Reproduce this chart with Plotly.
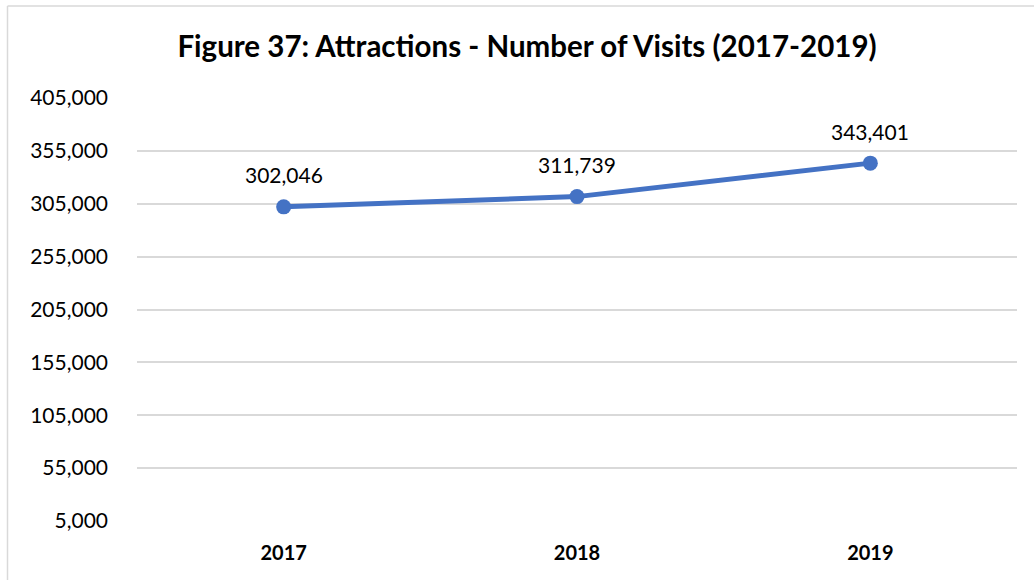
import plotly.graph_objects as go

# Attractions: number of visits per year
years = ["2017", "2018", "2019"]
visits = [302046, 311739, 343401]

# y-axis ticks
y_ticks = [5000, 55000, 105000, 155000, 205000, 255000, 305000, 355000, 405000]

FONT = "Lato"
BLUE = "#4472C4"
GRID = "#d9d9d9"

fig = go.Figure()
fig.add_trace(go.Scatter(
    x=years,
    y=visits,
    mode="lines+markers",
    line=dict(color=BLUE, width=5),
    marker=dict(color=BLUE, size=15),
    hoverinfo="x+y",
))

# value labels above each point (category index positions)
for i, v in enumerate(visits):
    fig.add_annotation(
        x=i, y=v, xref="x", yref="y", text=f"{v:,}", showarrow=False,
        yshift=32, font=dict(family=FONT, size=21, color="#000000"),
    )

fig.update_layout(
    width=1034,
    height=580,
    margin=dict(l=137, r=17, t=98, b=58.5),
    paper_bgcolor="white",
    plot_bgcolor="white",
    showlegend=False,
    title=dict(
        text="<b>Figure 37: Attractions - Number of Visits (2017-2019)</b>",
        x=527 / 1034, xanchor="center",
        y=1 - 47 / 580, yanchor="middle",
        font=dict(family=FONT, size=29.5, color="#000000"),
    ),
    xaxis=dict(
        type="category",
        range=[-0.5, 2.5],
        showgrid=False,
        showline=False,
        ticks="",
        tickfont=dict(family=FONT, size=20, color="#000000", weight="bold"),
        ticklabelstandoff=18,
    ),
    yaxis=dict(
        range=[5000, 405000],
        tickvals=y_ticks,
        ticktext=[f"{t:,}" for t in y_ticks],
        showgrid=True,
        gridcolor=GRID,
        gridwidth=1.5,
        zeroline=False,
        showline=False,
        ticks="",
        tickfont=dict(family=FONT, size=21, color="#000000"),
        ticklabelstandoff=28,
    ),
    shapes=[
        # chart frame (top and left edges)
        dict(type="line", xref="paper", yref="paper",
             x0=(7.5 - 137) / 880, x1=1.1, y0=(521.5 - 6) / 423.5, y1=(521.5 - 6) / 423.5,
             line=dict(color=GRID, width=1.5)),
        dict(type="line", xref="paper", yref="paper",
             x0=(7.5 - 137) / 880, x1=(7.5 - 137) / 880, y0=-0.2, y1=(521.5 - 6) / 423.5,
             line=dict(color=GRID, width=1.5)),
    ],
)

fig.write_html("out.html")
